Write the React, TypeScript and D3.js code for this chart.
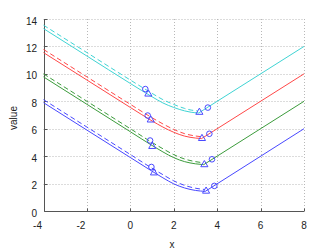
import React from 'react';
import * as d3 from 'd3';

// tick values
const xTicks = [-4, -2, 0, 2, 4, 6, 8];
const yTicks = [0, 2, 4, 6, 8, 10, 12, 14];

// solid curves (left part, ends at the kink) + straight right branch
const cyanX = [-4, -2, 0, 1, 1.5, 2, 2.5, 2.8, 3.15];
const cyanY = [13.3, 11.3, 9.3, 8.33, 7.88, 7.55, 7.3, 7.2, 7.15];
const redX = [-4, -2, 0, 1, 1.5, 2, 2.5, 3, 3.28];
const redY = [11.55, 9.55, 7.55, 6.57, 6.12, 5.74, 5.46, 5.32, 5.28];
const greenX = [-4, -2, 0, 1, 1.5, 2, 2.5, 3, 3.38];
const greenY = [9.78, 7.78, 5.78, 4.78, 4.31, 3.89, 3.6, 3.44, 3.38];
const blueX = [-4, -2, 0, 1, 1.5, 2, 2.5, 3, 3.45];
const blueY = [7.9, 5.9, 3.9, 2.9, 2.42, 1.98, 1.68, 1.5, 1.43];
const rightEndY = [12, 10, 8, 6]; // value at x = 8

// dashed curves
const cyanDX = [-4, -2, 0, 1, 1.5, 2, 2.5, 2.8, 3.1];
const cyanDY = [13.55, 11.55, 9.55, 8.58, 8.12, 7.77, 7.48, 7.36, 7.3];
const redDX = [-4, -2, 0, 1, 1.5, 2, 2.5, 3, 3.25];
const redDY = [11.78, 9.78, 7.78, 6.8, 6.35, 5.95, 5.64, 5.47, 5.42];
const greenDX = [-4, -2, 0, 1, 1.5, 2, 2.5, 3, 3.35];
const greenDY = [10.0, 8.0, 6.0, 5.0, 4.54, 4.11, 3.79, 3.6, 3.52];
const blueDX = [-4, -2, 0, 1, 1.5, 2, 2.5, 3, 3.42];
const blueDY = [8.12, 6.12, 4.12, 3.12, 2.65, 2.2, 1.87, 1.66, 1.57];

// markers
const circleX = [0.69, 0.8, 0.91, 0.97, 3.57, 3.64, 3.76, 3.87];
const circleY = [8.89, 6.96, 5.14, 3.21, 7.54, 5.63, 3.77, 1.83];
const triX = [0.83, 0.94, 1.01, 1.09, 3.18, 3.3, 3.41, 3.49];
const triY = [8.53, 6.64, 4.71, 2.78, 7.2, 5.29, 3.38, 1.45];

const colors = ['#40d4d4', '#ff4848', '#3c9c3c', '#4848ff'];
const markerColor = '#4a4aff';

const W = 336;
const H = 252;
const font = '"Liberation Sans", Arial, sans-serif';

export default function App() {
  const x = d3.scaleLinear().domain([-4, 8]).range([43.5, 304]);
  const y = d3.scaleLinear().domain([0, 14]).range([211, 19]);

  const solid = [
    [cyanX, cyanY],
    [redX, redY],
    [greenX, greenY],
    [blueX, blueY],
  ];
  const dashed = [
    [cyanDX, cyanDY],
    [redDX, redDY],
    [greenDX, greenDY],
    [blueDX, blueDY],
  ];

  const line = d3
    .line<[number, number]>()
    .x((d) => x(d[0]))
    .y((d) => y(d[1]))
    .curve(d3.curveMonotoneX);
  const straight = d3
    .line<[number, number]>()
    .x((d) => x(d[0]))
    .y((d) => y(d[1]));

  const zip = (a: number[], b: number[]) => a.map((v, i) => [v, b[i]] as [number, number]);
  const px = (v: number) => Math.round(v) + 0.5;

  const tri = d3.symbol().type(d3.symbolTriangle).size(22)();

  return (
    <svg width={W} height={H} style={{ position: 'absolute', left: 0, top: 0 }} fontFamily={font}>
      <rect width={W} height={H} fill="#fff" />

      {/* grid */}
      <g stroke="#b8b8b8" strokeWidth={1} strokeDasharray="1,2">
        {xTicks.slice(1).map((t) => (
          <line key={'gx' + t} x1={px(x(t))} x2={px(x(t))} y1={y(14)} y2={y(0)} />
        ))}
        {yTicks.slice(1).map((t) => (
          <line key={'gy' + t} x1={x(-4)} x2={x(8)} y1={px(y(t))} y2={px(y(t))} />
        ))}
      </g>

      {/* axes */}
      <g stroke="#555" strokeWidth={1}>
        <line x1={px(x(-4))} x2={px(x(-4))} y1={y(14)} y2={px(y(0))} />
        <line x1={px(x(-4))} x2={x(8)} y1={px(y(0))} y2={px(y(0))} />
        {xTicks.map((t) => (
          <line key={'tx' + t} x1={px(x(t))} x2={px(x(t))} y1={px(y(0))} y2={px(y(0)) - 3} />
        ))}
        {yTicks.map((t) => (
          <line key={'ty' + t} x1={px(x(-4))} x2={px(x(-4)) + 3} y1={px(y(t))} y2={px(y(t))} />
        ))}
      </g>

      {/* dashed curves */}
      {dashed.map(([a, b], i) => (
        <path key={'d' + i} d={line(zip(a, b)) || ''} fill="none" stroke={colors[i]} strokeWidth={1} strokeDasharray="5,3" />
      ))}

      {/* solid curves */}
      {solid.map(([a, b], i) => (
        <g key={'s' + i} fill="none" stroke={colors[i]} strokeWidth={1}>
          <path d={line(zip(a, b)) || ''} />
          <path d={straight([[a[a.length - 1], b[b.length - 1]], [8, rightEndY[i]]]) || ''} />
        </g>
      ))}

      {/* markers */}
      <g fill="none" stroke={markerColor} strokeWidth={1}>
        {circleX.map((v, i) => (
          <circle key={'c' + i} cx={x(v)} cy={y(circleY[i])} r={2.8} />
        ))}
        {triX.map((v, i) => (
          <path key={'t' + i} d={tri || ''} transform={`translate(${x(v)},${y(triY[i])})`} />
        ))}
      </g>

      {/* tick labels */}
      <g fontSize={10} fill="#222">
        {xTicks.map((t) => (
          <text key={'lx' + t} x={x(t) - (t < 0 ? 6 : 0)} y={228.5} textAnchor="middle">
            {t}
          </text>
        ))}
        {yTicks.map((t) => (
          <text key={'ly' + t} x={37} y={y(t) + 5.5} textAnchor="end">
            {t}
          </text>
        ))}
      </g>

      {/* axis labels */}
      <text x={172} y={248} fontSize={10} fill="#222" textAnchor="middle">
        x
      </text>
      <text transform="translate(17,118) rotate(-90)" fontSize={10} fill="#222" textAnchor="middle">
        value
      </text>
    </svg>
  );
}
